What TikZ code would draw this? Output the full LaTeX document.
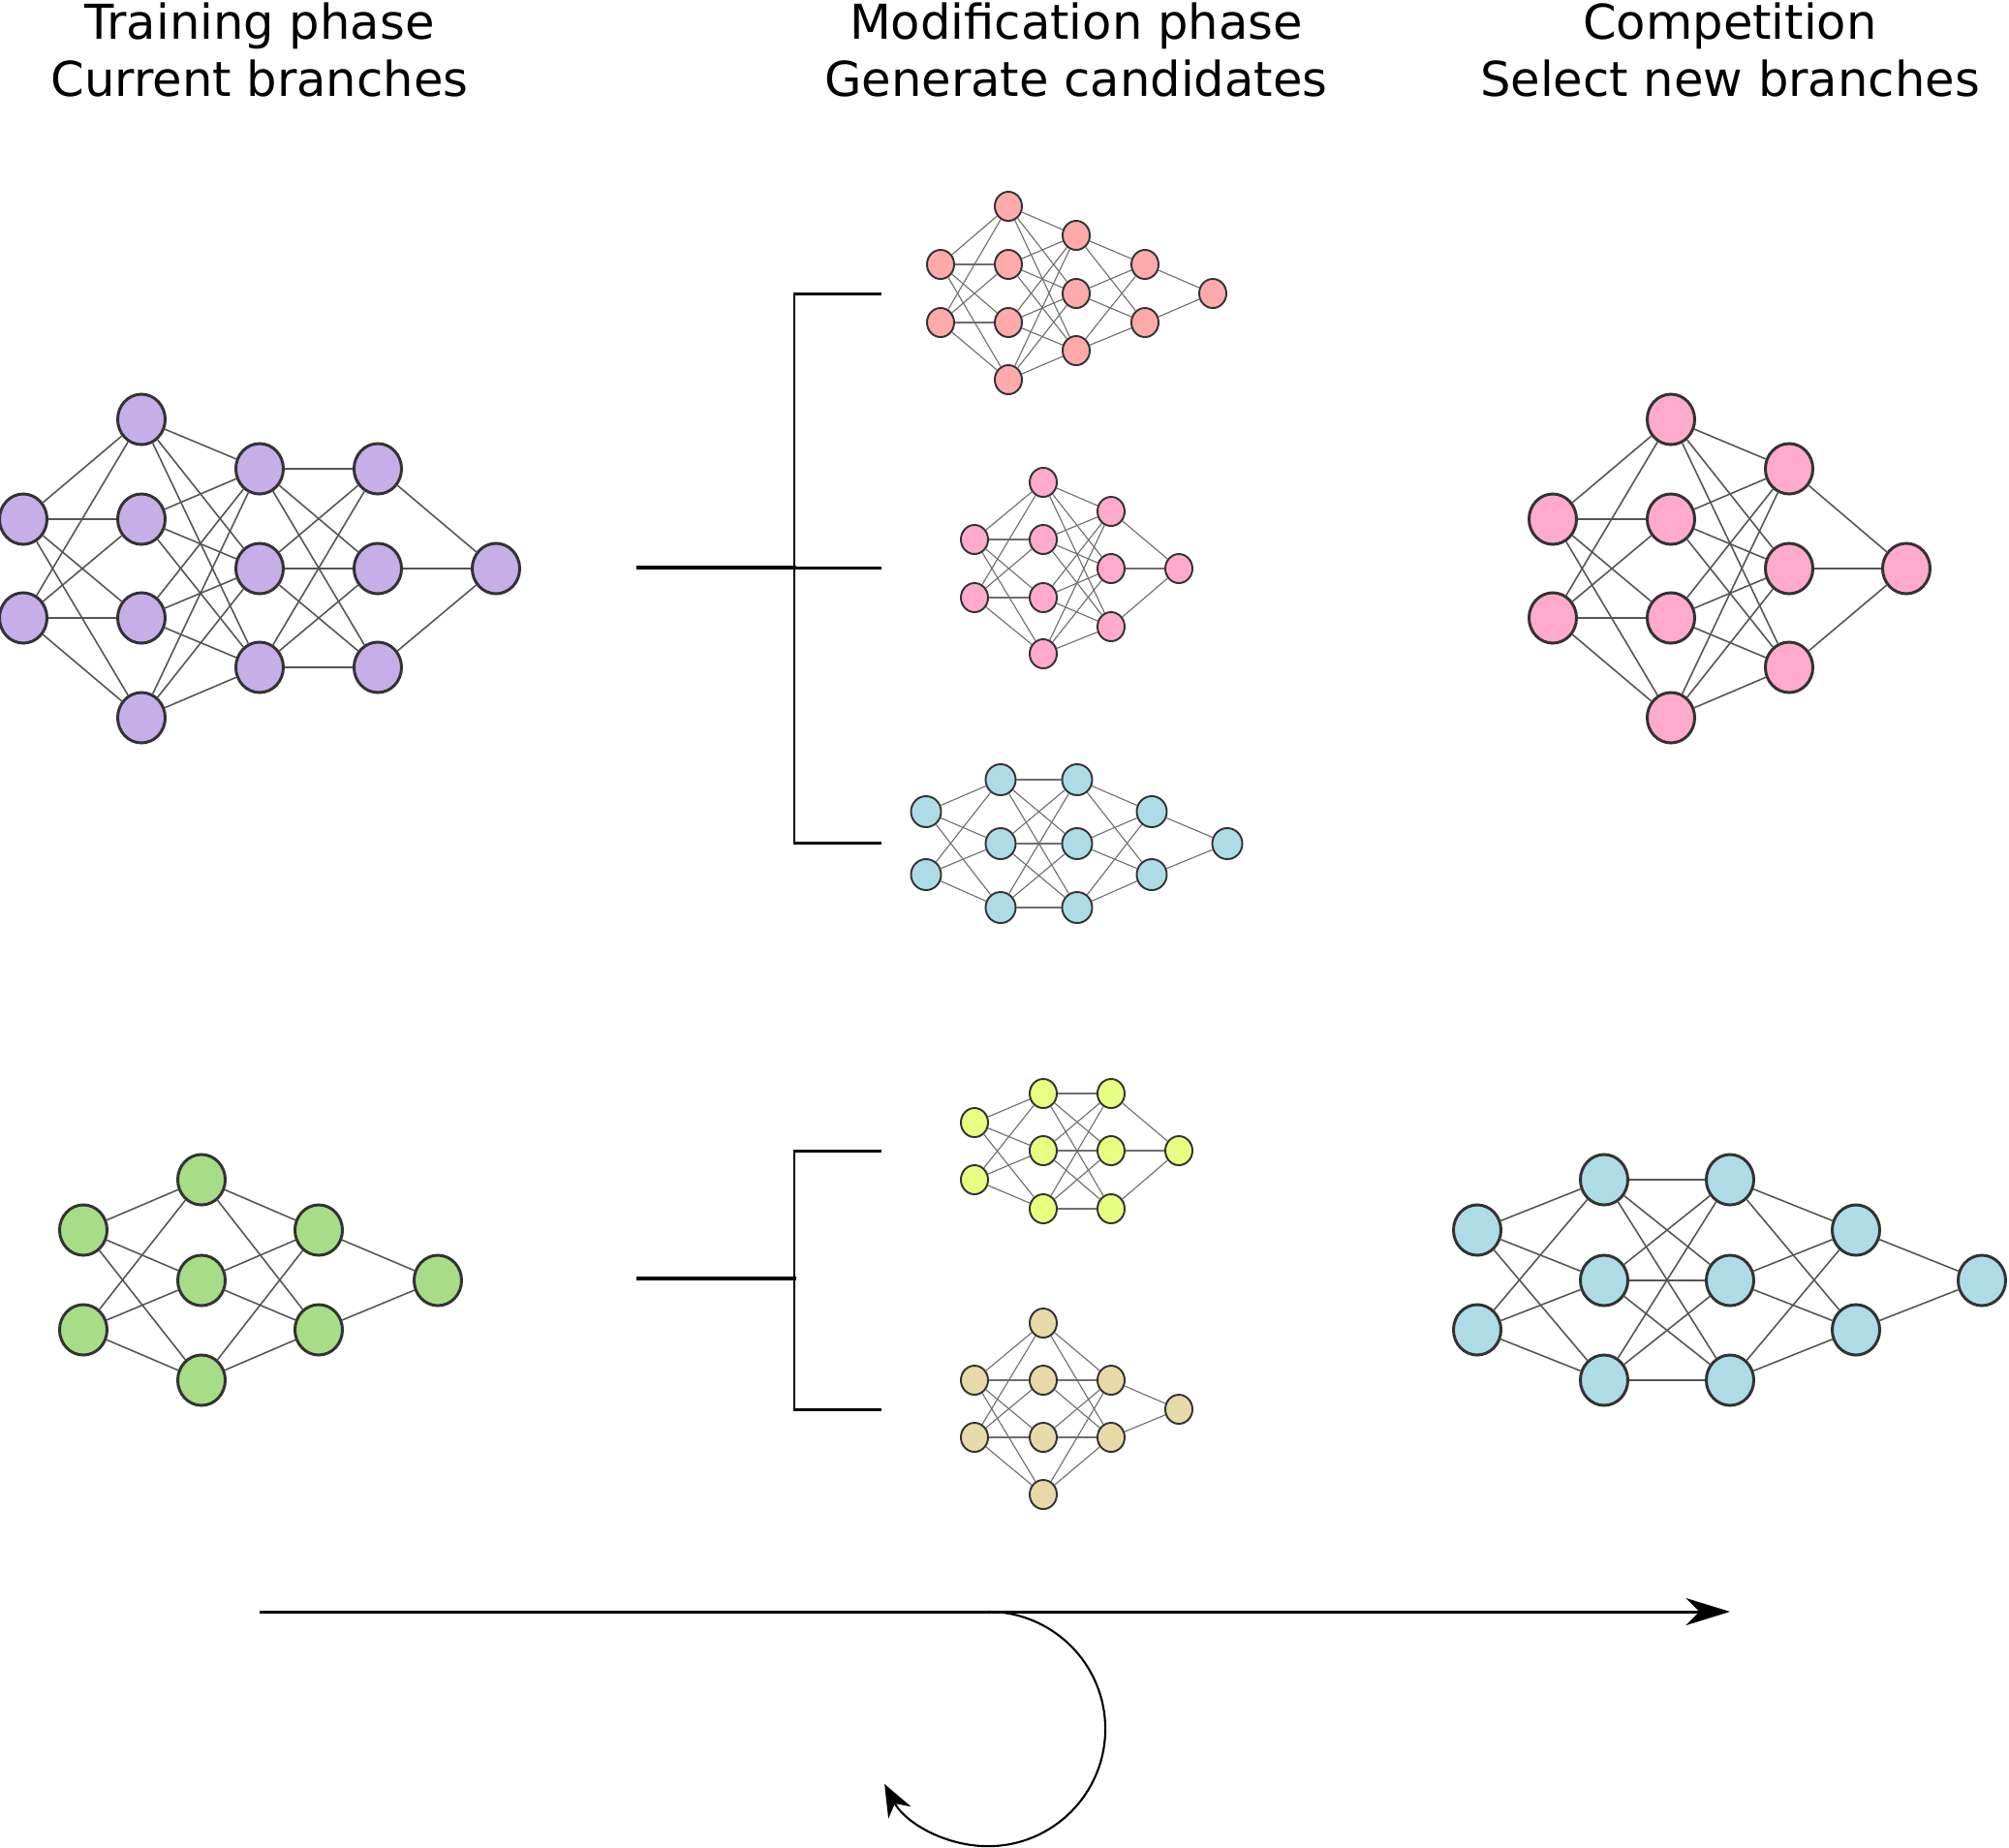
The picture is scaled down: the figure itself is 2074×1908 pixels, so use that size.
\documentclass[tikz,border=0pt]{standalone}
\usepackage{fontspec}
\setmainfont{DejaVu Sans}
\usepackage{tikz}
\usetikzlibrary{arrows.meta,shapes.geometric}

\definecolor{nodeline}{HTML}{333333}
\definecolor{linkgray}{HTML}{555555}
\definecolor{lavender}{HTML}{C6AEE8}
\definecolor{salmon}{HTML}{FFAAAA}
\definecolor{rosepink}{HTML}{FFAACC}
\definecolor{skyblue}{HTML}{ADDCE6}
\definecolor{leafgreen}{HTML}{A8DD88}
\definecolor{limeyellow}{HTML}{E6FF80}
\definecolor{sandtan}{HTML}{E8D9A8}

% one layer of a net: net name, layer no, x, list of y
\newcommand{\netlayer}[4]{%
  \foreach \yy [count=\k] in {#4}
    \node[neuron] (#1-#2-\k) at (#3,\yy) {};}
% all links from layer #2 (#3 nodes) to the next layer (#4 nodes)
\newcommand{\netlinks}[4]{%
  \pgfmathtruncatemacro{\nxt}{#2+1}%
  \foreach \a in {1,...,#3}
    \foreach \b in {1,...,#4}
      \draw[link] (#1-#2-\a) -- (#1-\nxt-\b);}

\begin{document}
\begin{tikzpicture}[
    x=0.01cm, y=-0.01cm,
    title/.style={anchor=north, align=center, inner sep=0pt, font=\fontsize{14.1pt}{16.8pt}\selectfont},
    bignode/.style={ellipse, draw=nodeline, line width=0.85pt, inner sep=0pt, minimum width=0.49cm, minimum height=0.52cm},
    smallnode/.style={ellipse, draw=nodeline, line width=0.55pt, inner sep=0pt, minimum width=0.28cm, minimum height=0.30cm},
    biglink/.style={draw=linkgray, line width=0.45pt},
    smalllink/.style={draw=linkgray!85, line width=0.32pt},
    bracket/.style={line width=0.85pt, line cap=rect},
    flow/.style={-{Stealth[length=13pt, width=8pt, inset=4pt]}, line width=0.85pt},
    loopback/.style={-{Stealth[length=9.5pt, width=7.5pt, inset=3pt]}, line width=0.6pt}
]
\useasboundingbox (0,0) rectangle (2074,1908);

% column heads
\node[title] (trainHead) at (268,2)  {Training phase\\Current branches};
\node[title] (modHead)   at (1111,2) {Modification phase\\Generate candidates};
\node[title] (compHead)  at (1786,2) {Competition\\Select new branches};

% current branches
\begin{scope}[neuron/.style={bignode, fill=lavender}, link/.style={biglink}]
  \netlayer{curA}{1}{24}{536,638}
  \netlayer{curA}{2}{146}{433,536,638,741}
  \netlayer{curA}{3}{268}{484,587,689}
  \netlayer{curA}{4}{390}{484,587,689}
  \netlayer{curA}{5}{512}{587}
  \netlinks{curA}{1}{2}{4}
  \netlinks{curA}{2}{4}{3}
  \netlinks{curA}{3}{3}{3}
  \netlinks{curA}{4}{3}{1}
\end{scope}

\begin{scope}[neuron/.style={bignode, fill=leafgreen}, link/.style={biglink}]
  \netlayer{curB}{1}{86}{1270,1373}
  \netlayer{curB}{2}{208}{1218,1322,1425}
  \netlayer{curB}{3}{329}{1270,1373}
  \netlayer{curB}{4}{452}{1322}
  \netlinks{curB}{1}{2}{3}
  \netlinks{curB}{2}{3}{2}
  \netlinks{curB}{3}{2}{1}
\end{scope}

% candidates
\begin{scope}[neuron/.style={smallnode, fill=salmon}, link/.style={smalllink}]
  \netlayer{candA}{1}{971}{273,333}
  \netlayer{candA}{2}{1041}{213,273,333,392}
  \netlayer{candA}{3}{1111}{243,303,362}
  \netlayer{candA}{4}{1182}{273,333}
  \netlayer{candA}{5}{1252}{303}
  \netlinks{candA}{1}{2}{4}
  \netlinks{candA}{2}{4}{3}
  \netlinks{candA}{3}{3}{2}
  \netlinks{candA}{4}{2}{1}
\end{scope}

\begin{scope}[neuron/.style={smallnode, fill=rosepink}, link/.style={smalllink}]
  \netlayer{candB}{1}{1006}{557,617}
  \netlayer{candB}{2}{1077}{498,557,617,675}
  \netlayer{candB}{3}{1147}{528,587,647}
  \netlayer{candB}{4}{1217}{587}
  \netlinks{candB}{1}{2}{4}
  \netlinks{candB}{2}{4}{3}
  \netlinks{candB}{3}{3}{1}
\end{scope}

\begin{scope}[neuron/.style={smallnode, fill=skyblue, minimum width=0.31cm, minimum height=0.32cm}, link/.style={smalllink}]
  \netlayer{candC}{1}{956}{838,903}
  \netlayer{candC}{2}{1033}{805,871,937}
  \netlayer{candC}{3}{1112}{805,871,937}
  \netlayer{candC}{4}{1189}{838,903}
  \netlayer{candC}{5}{1267}{871}
  \netlinks{candC}{1}{2}{3}
  \netlinks{candC}{2}{3}{3}
  \netlinks{candC}{3}{3}{2}
  \netlinks{candC}{4}{2}{1}
\end{scope}

\begin{scope}[neuron/.style={smallnode, fill=limeyellow}, link/.style={smalllink}]
  \netlayer{candD}{1}{1006}{1159,1218}
  \netlayer{candD}{2}{1077}{1129,1188,1248}
  \netlayer{candD}{3}{1147}{1129,1188,1248}
  \netlayer{candD}{4}{1217}{1188}
  \netlinks{candD}{1}{2}{3}
  \netlinks{candD}{2}{3}{3}
  \netlinks{candD}{3}{3}{1}
\end{scope}

\begin{scope}[neuron/.style={smallnode, fill=sandtan}, link/.style={smalllink}]
  \netlayer{candE}{1}{1006}{1425,1484}
  \netlayer{candE}{2}{1077}{1366,1425,1484,1543}
  \netlayer{candE}{3}{1147}{1425,1484}
  \netlayer{candE}{4}{1217}{1455}
  \netlinks{candE}{1}{2}{4}
  \netlinks{candE}{2}{4}{2}
  \netlinks{candE}{3}{2}{1}
\end{scope}

% selected branches
\begin{scope}[neuron/.style={bignode, fill=rosepink}, link/.style={biglink}]
  \netlayer{selA}{1}{1603}{536,638}
  \netlayer{selA}{2}{1725}{433,536,638,741}
  \netlayer{selA}{3}{1847}{484,587,689}
  \netlayer{selA}{4}{1968}{587}
  \netlinks{selA}{1}{2}{4}
  \netlinks{selA}{2}{4}{3}
  \netlinks{selA}{3}{3}{1}
\end{scope}

\begin{scope}[neuron/.style={bignode, fill=skyblue}, link/.style={biglink}]
  \netlayer{selB}{1}{1525}{1270,1373}
  \netlayer{selB}{2}{1656}{1218,1322,1425}
  \netlayer{selB}{3}{1786}{1218,1322,1425}
  \netlayer{selB}{4}{1916}{1270,1373}
  \netlayer{selB}{5}{2046}{1322}
  \netlinks{selB}{1}{2}{3}
  \netlinks{selB}{2}{3}{3}
  \netlinks{selB}{3}{3}{2}
  \netlinks{selB}{4}{2}{1}
\end{scope}

% brackets
\coordinate (stemA) at (659,586);
\coordinate (forkA) at (820,586);
\coordinate (tipA1) at (909,303);
\coordinate (tipA2) at (909,586);
\coordinate (tipA3) at (909,870);
\draw[bracket] (tipA1) -- (tipA1 -| forkA) -- (tipA3 -| forkA) -- (tipA3);
\draw[bracket, line width=1.1pt] (stemA) -- (forkA);
\draw[bracket] (forkA) -- (tipA2);

\coordinate (stemB) at (659,1320);
\coordinate (forkB) at (820,1320);
\coordinate (tipB1) at (909,1188);
\coordinate (tipB2) at (909,1455);
\draw[bracket] (tipB1) -- (tipB1 -| forkB) -- (tipB2 -| forkB) -- (tipB2);
\draw[bracket, line width=1.1pt] (stemB) -- (forkB);

% time line and loop
\coordinate (flowStart) at (268,1664);
\coordinate (flowEnd) at (1786,1664);
\coordinate (loopStart) at (1020,1664);
\draw[flow] (flowStart) -- (flowEnd);
\draw[loopback] (loopStart) arc[start angle=90, end angle=-152, radius=1.21cm];

\end{tikzpicture}
\end{document}
